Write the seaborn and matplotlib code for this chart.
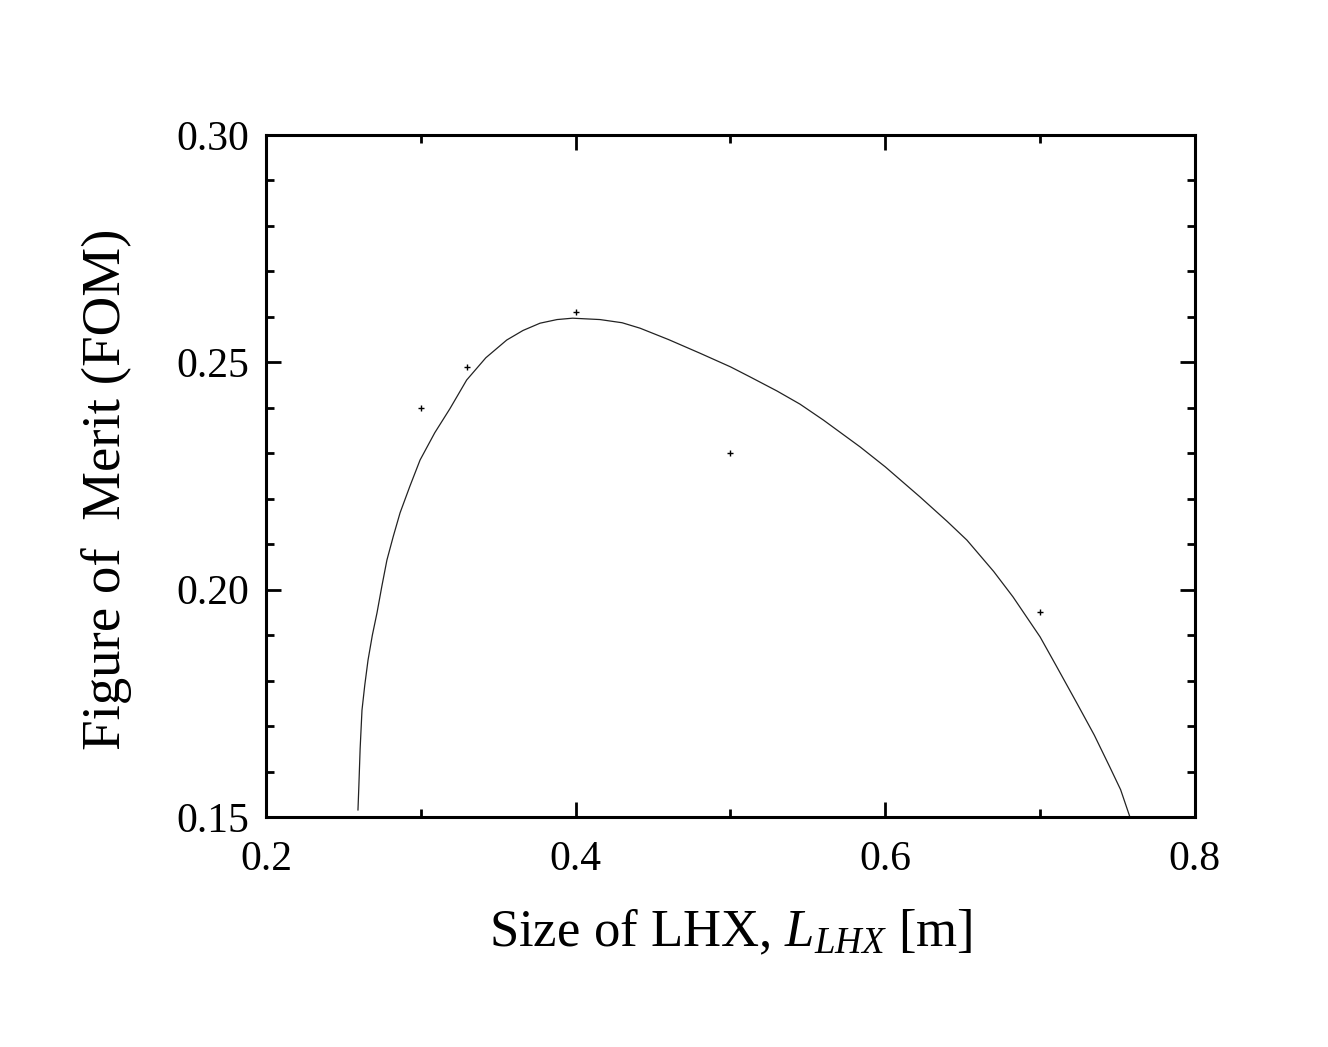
import matplotlib
matplotlib.use("Agg")
import matplotlib.pyplot as plt
import seaborn as sns
import pandas as pd
from matplotlib.ticker import MultipleLocator

# Curve values
curve_x = [0.2594, 0.2600, 0.2608, 0.2620, 0.2638, 0.2659, 0.2687, 0.2717,
           0.2748, 0.2781, 0.2822, 0.2866, 0.2930, 0.2995, 0.3090, 0.3188,
           0.3296, 0.3420, 0.3555, 0.3660, 0.3770, 0.3880, 0.3980, 0.4157,
           0.4300, 0.4416, 0.4600, 0.4803, 0.5000, 0.5126, 0.5300, 0.5449,
           0.5600, 0.5837, 0.6000, 0.6224, 0.6400, 0.6527, 0.6700, 0.6825,
           0.7000, 0.7100, 0.7238, 0.7350, 0.7450, 0.7520, 0.7580]
curve_y = [0.1515, 0.1570, 0.1650, 0.1735, 0.1790, 0.1845, 0.1900, 0.1949,
           0.2007, 0.2065, 0.2117, 0.2169, 0.2228, 0.2285, 0.2345, 0.2398,
           0.2461, 0.2510, 0.2549, 0.2570, 0.2586, 0.2594, 0.2597, 0.2594,
           0.2587, 0.2575, 0.2550, 0.2520, 0.2490, 0.2468, 0.2437, 0.2408,
           0.2373, 0.2314, 0.2270, 0.2204, 0.2150, 0.2109, 0.2040, 0.1984,
           0.1896, 0.1835, 0.1750, 0.1680, 0.1610, 0.1560, 0.1500]

# Data points
pts_x = [0.30, 0.33, 0.40, 0.50, 0.70]
pts_y = [0.240, 0.249, 0.261, 0.230, 0.195]

x_ticks = [0.2, 0.4, 0.6, 0.8]
x_ticklabels = ["0.2", "0.4", "0.6", "0.8"]
y_ticks = [0.15, 0.20, 0.25, 0.30]
y_ticklabels = ["0.15", "0.20", "0.25", "0.30"]

sns.set_style("ticks")
plt.rcParams['font.family'] = ['Liberation Serif', 'DejaVu Serif']
plt.rcParams['mathtext.fontset'] = 'custom'
plt.rcParams['mathtext.rm'] = 'Liberation Serif'
plt.rcParams['mathtext.it'] = 'Liberation Serif:italic'
plt.rcParams['text.color'] = 'black'
plt.rcParams['axes.labelcolor'] = 'black'

fig = plt.figure(figsize=(13.28, 10.47), dpi=100)
ax = fig.add_axes([0.2003, 0.2197, 0.6995, 0.6514])

curve = pd.DataFrame({"x": curve_x, "y": curve_y})
pts = pd.DataFrame({"x": pts_x, "y": pts_y})

sns.lineplot(data=curve, x="x", y="y", ax=ax, color="#222222", lw=0.9,
             estimator=None, sort=False)
sns.scatterplot(data=pts, x="x", y="y", ax=ax, marker="+", s=14,
                color="black", linewidth=1.0)

ax.set_xlim(0.2, 0.8)
ax.set_ylim(0.15, 0.30)
ax.set_xticks(x_ticks)
ax.set_xticklabels(x_ticklabels)
ax.set_yticks(y_ticks)
ax.set_yticklabels(y_ticklabels)
ax.xaxis.set_minor_locator(MultipleLocator(0.1))
ax.yaxis.set_minor_locator(MultipleLocator(0.01))

ax.tick_params(which="both", direction="in", top=True, right=True,
               width=2.0, colors="black", labelcolor="black")
ax.tick_params(axis="x", which="major", length=10.5, labelsize=30, pad=17)
ax.tick_params(axis="y", which="major", length=10.5, labelsize=30, pad=12)
ax.tick_params(which="minor", length=6)

for sp in ax.spines.values():
    sp.set_linewidth(2.2)
    sp.set_color("black")

ax.set_xlabel(r"Size of LHX, $L_{LHX}$ [m]", fontsize=38, labelpad=20)
ax.set_ylabel("Figure of  Merit (FOM)", fontsize=39.5, labelpad=32)
ax.yaxis.label.set_y(0.481)

fig.savefig("out.png", dpi=100, facecolor="white")
